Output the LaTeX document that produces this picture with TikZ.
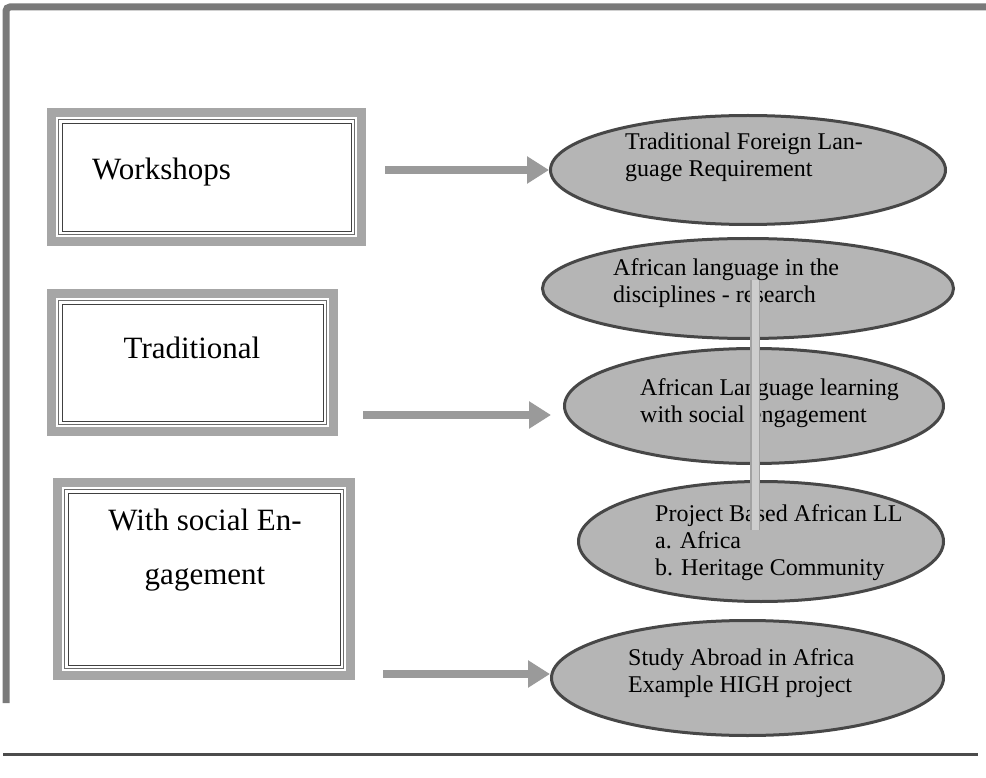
\documentclass[tikz,border=0pt]{standalone}
\usepackage{fontspec}
\setmainfont{Liberation Serif}
\usetikzlibrary{arrows.meta,shapes.geometric,calc}
\definecolor{framegray}{HTML}{7A7A7A}
\definecolor{bandgray}{HTML}{A6A6A6}
\definecolor{ellfill}{HTML}{B5B5B5}
\definecolor{elldraw}{HTML}{474747}
\definecolor{arrowgray}{HTML}{9A9A9A}
\definecolor{bargray}{HTML}{CDCDCD}
\definecolor{baredge}{HTML}{A2A2A2}
\begin{document}
\begin{tikzpicture}[x=1pt,y=-1pt,
  boxframe/.style={draw=bandgray, line width=9pt, fill=white, rectangle, inner sep=0pt},
  innerline/.style={draw=gray!85!black, line width=1.3pt},
  innerdark/.style={draw=black!75, line width=0.8pt},
  ellbox/.style={ellipse, draw=elldraw, line width=3pt, fill=ellfill, inner sep=0pt},
  boxtext/.style={font=\fontsize{31}{54}\selectfont, inner sep=0pt},
  elltext/.style={font=\fontsize{24}{27}\selectfont, align=left, anchor=west, inner sep=0pt},
  bigarrow/.style={draw=arrowgray, line width=8pt, -{Triangle[length=22pt,width=26pt]}},
  barout/.style={draw=baredge, line width=10pt},
  barin/.style={draw=bargray, line width=7pt},
]
\useasboundingbox (0,0) rectangle (986,778);
\fill[white] (0,0) rectangle (986,778);

% outer frame
\draw[framegray, line width=7pt, rounded corners=4pt] (6,703) -- (6,7) -- (986,7);
\draw[black!70, line width=3pt] (3,754) -- (978,754);

% boxes
\node[boxframe, minimum width=310pt, minimum height=129pt] (b1) at (206.5,177) {};
\node[boxframe, minimum width=282pt, minimum height=138pt] (b2) at (192.5,362.5) {};
\node[boxframe, minimum width=293pt, minimum height=193pt] (b3) at (204,579) {};
\foreach \b in {b1,b2,b3}{
  \draw[innerline] ($(\b.north west)+(11.5,11.5)$) rectangle ($(\b.south east)+(-11.5,-11.5)$);
  \draw[innerdark] ($(\b.north west)+(15,15)$) rectangle ($(\b.south east)+(-15,-15)$);
}
\node[boxtext, anchor=west] (t1) at (92,172) {Workshops};
\node[boxtext] (t2) at (192,348) {Traditional};
\node[boxtext, align=center] (t3) at (205,550) {With social En-\\gagement};

% ellipses
\node[ellbox, minimum width=395pt, minimum height=109pt] (e1) at (748,170) {};
\node[ellbox, minimum width=411pt, minimum height=100pt] (e2) at (748,288.5) {};
\node[ellbox, minimum width=379pt, minimum height=115pt] (e3) at (754,406) {};
\node[ellbox, minimum width=365pt, minimum height=120pt] (e4) at (761,541.5) {};
\node[ellbox, minimum width=392pt, minimum height=115pt] (e5) at (747.5,678) {};

\node[elltext] (x1) at (625,157) {Traditional Foreign Lan-\\guage Requirement};
\node[elltext] (x2) at (613,283.5) {African language in the\\disciplines - research};
\node[elltext] (x3) at (640,403.5) {African Language learning\\with social engagement};
\node[elltext] (x4) at (655,542.5) {Project Based African LL\\a. Africa\\b. Heritage Community};
\node[elltext] (x5) at (628,673.5) {Study Abroad in Africa\\Example HIGH project};

% vertical connector over the ellipses
\draw[barout] ($(e2.center)+(7,-8.5)$) -- ($(e4.center)+(-6,-11.5)$);
\draw[barin] ($(e2.center)+(7,-8.5)$) -- ($(e4.center)+(-6,-11.5)$);

% arrows
\coordinate (a1) at (385,170);
\coordinate (a2) at (363,415);
\coordinate (a3) at (383,674);
\draw[bigarrow] (a1) -- (e1.west);
\draw[bigarrow] (a2) -- ($(a2 -| e3.west)+(-12,0)$);
\draw[bigarrow] (a3) -- (a3 -| e5.west);
\end{tikzpicture}
\end{document}
